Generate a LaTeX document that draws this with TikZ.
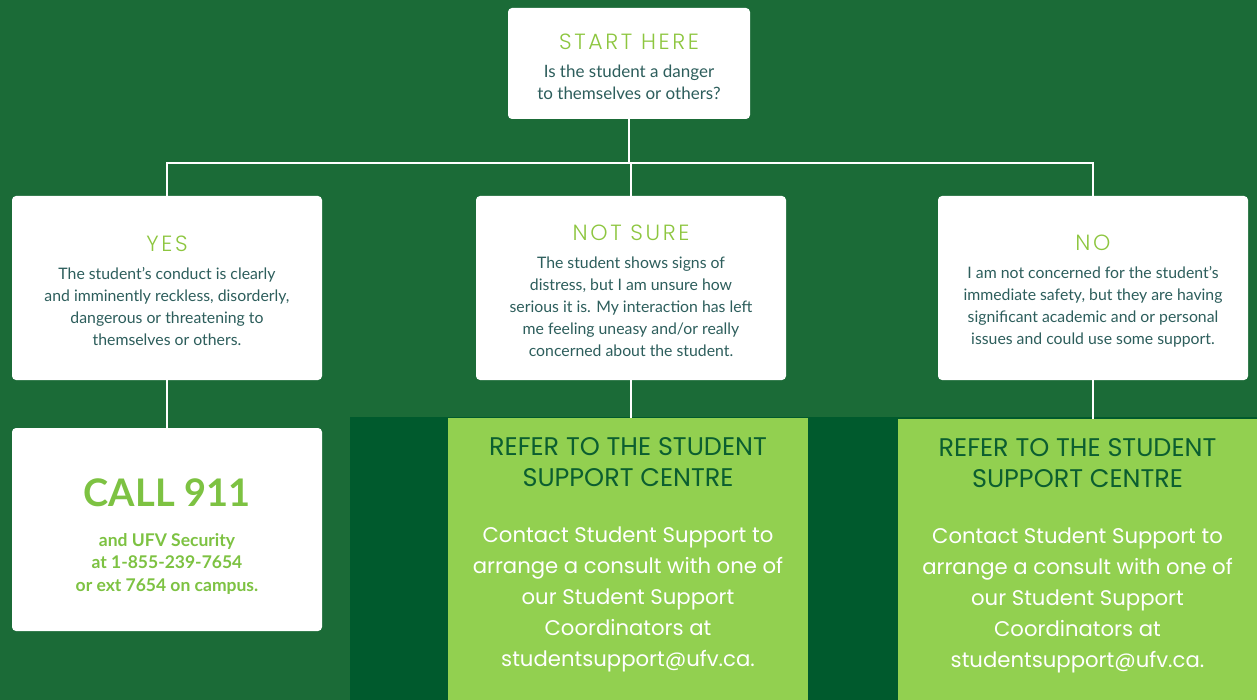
\documentclass[tikz,border=0pt]{standalone}
\usepackage{fontspec}
\setmainfont{Lato}
\newfontfamily\futura{Poppins}
\newfontfamily\scrawl{Poppins Light}[LetterSpace=12]

\begin{document}
\begin{tikzpicture}[x=1pt,y=-1pt]
  % Colors
  \definecolor{forest}{HTML}{1B6B37}
  \definecolor{deepforest}{HTML}{005A2D}
  \definecolor{lime}{HTML}{92D050}
  \definecolor{scrawlgreen}{HTML}{8DC63F}
  \definecolor{alertgreen}{HTML}{7DC242}
  \definecolor{bodytext}{HTML}{2D5E5C}
  \definecolor{refertitle}{HTML}{0B5E30}

  % Styles
  \tikzstyle{card}=[fill=white, rounded corners=4pt, inner sep=0pt, align=center,
                    text=bodytext, font=\fontsize{15.8}{22}\selectfont]
  \tikzstyle{choice}=[card, minimum width=310, minimum height=184]
  \tikzstyle{refer}=[fill=lime, inner sep=0pt, align=center, text=white, text depth=14pt,
                     font=\futura\fontsize{21.2}{31}\selectfont]
  \tikzstyle{link}=[draw=white, line width=2pt]
  % the strut pushes each card's text a little lower
  \newcommand\heading[1]{{\rule{0pt}{22pt}\scrawl\color{scrawlgreen}\fontsize{22}{24}\selectfont #1}}
  \newcommand\referhead{\color{refertitle}\fontsize{25.5}{33}\selectfont}

  % Background and the dark band behind the referral panels
  \useasboundingbox[fill=forest] (0,0) rectangle (1257,700);
  \fill[deepforest] (350,417) rectangle (1257,700);

  % The question
  \node[card, minimum width=242, minimum height=111,
        font=\fontsize{17}{22}\selectfont] (start) at (629,63.5)
    {\heading{START HERE}\\[6pt]
     Is the student a danger\\to themselves or others?};

  % The three answers
  \node[choice] (yes) at (167,288)
    {\heading{YES}\\[6pt]
     The student's conduct is clearly\\
     and imminently reckless, disorderly,\\
     dangerous or threatening to\\
     themselves or others.};
  \node[choice] (notsure) at (631,288)
    {\heading{NOT SURE}\\[6pt]
     The student shows signs of\\
     distress, but I am unsure how\\
     serious it is. My interaction has left\\
     me feeling uneasy and/or really\\
     concerned about the student.};
  \node[choice] (no) at (1093,288)
    {\heading{NO}\\[6pt]
     I am not concerned for the student's\\
     immediate safety, but they are having\\
     significant academic and or personal\\
     issues and could use some support.};

  % What to do
  \node[card, minimum width=310, minimum height=203, text=alertgreen,
        font=\bfseries\fontsize{17.5}{22.5}\selectfont] (call) at (167,529.5)
    {\rule{0pt}{42pt}\fontsize{38}{40}\selectfont CALL 911\\[17pt]
     and UFV Security\\
     at 1-855-239-7654\\
     or ext 7654 on campus.};
  \node[refer, minimum width=360, minimum height=282] (referA) at (628,559)
    {\referhead REFER TO THE STUDENT\\\referhead SUPPORT CENTRE\\[25pt]
     \color{white}Contact Student Support to\\
     arrange a consult with one of\\
     our Student Support\\
     Coordinators at\\
     studentsupport@ufv.ca.};
  \node[refer, minimum width=359, minimum height=281] (referB) at (1077.5,559.5)
    {\referhead REFER TO THE STUDENT\\\referhead SUPPORT CENTRE\\[25pt]
     \color{white}Contact Student Support to\\
     arrange a consult with one of\\
     our Student Support\\
     Coordinators at\\
     studentsupport@ufv.ca.};

  % Connectors
  \coordinate (fork) at (629,163);
  \draw[link] (start.south) -- (fork);
  \draw[link] (yes.north) |- (fork) -| (no.north);
  \draw[link] (notsure.north) -- (notsure.north |- fork);
  \draw[link] (yes.south) -- (call.north);
  \draw[link] (notsure.south) -- (notsure.south |- referA.north);
  \draw[link] (no.south) -- (no.south |- referB.north);
\end{tikzpicture}
\end{document}
